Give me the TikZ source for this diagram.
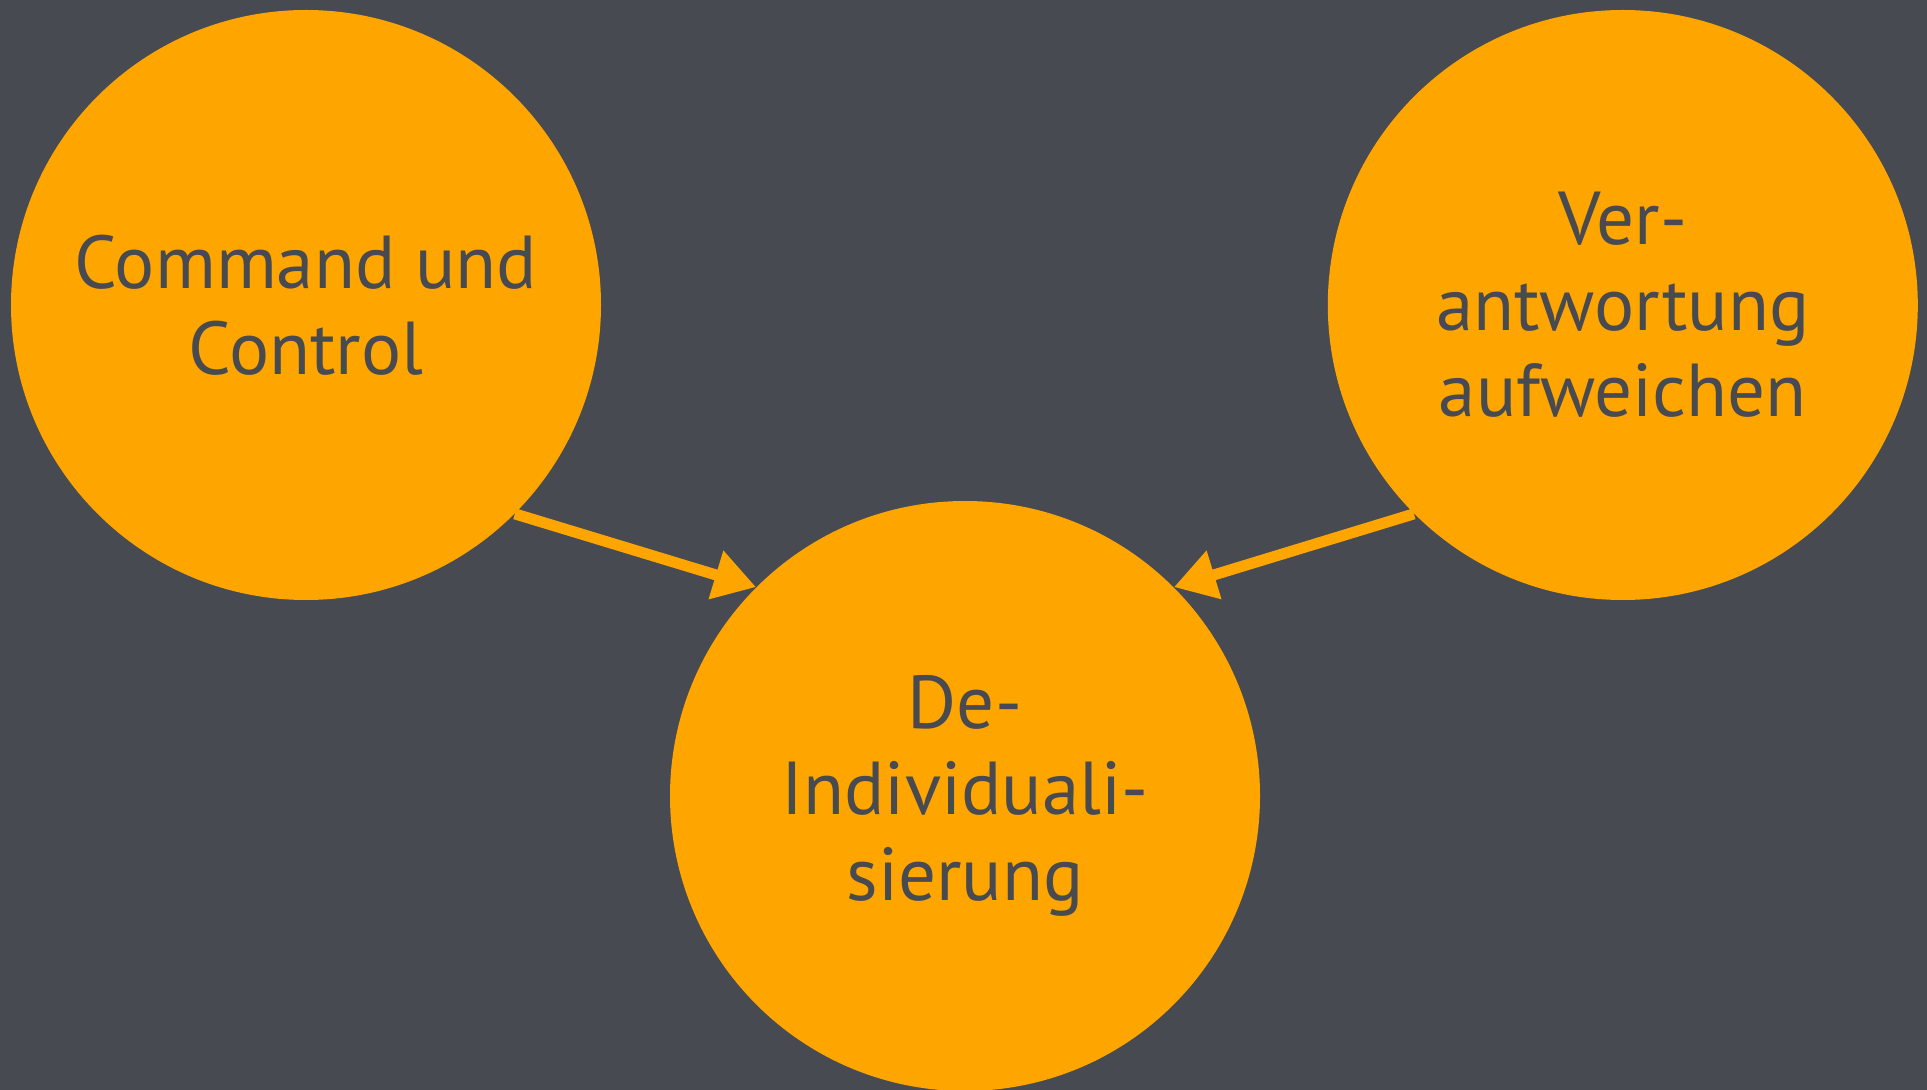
\documentclass[tikz,border=0pt]{standalone}
\usepackage{fontspec}
\setmainfont{PT Sans}
\usetikzlibrary{positioning,arrows.meta}
\definecolor{bg}{RGB}{71,74,81}
\definecolor{orng}{RGB}{255,165,0}
\begin{document}
\begin{tikzpicture}[>={Triangle[length=21pt,width=24pt]},auto,
    base node/.style={circle,fill=orng,text=bg,minimum size=295pt,inner sep=0pt,align=center,font=\fontsize{37.5}{43}\selectfont},
    flow/.style={->,draw=orng,fill=orng,line width=5.5pt}]
\fill[bg] (0,0) rectangle (963.5pt,-545pt);
\useasboundingbox (0,0) rectangle (963.5pt,-545pt);

\node[base node]   (0)   at (153pt,-152.5pt)   {Command und\\Control};
\node[base node]   (1)   [right=363pt of 0]    {Ver-\\antwortung\\aufweichen};
\node[base node]   (2)   at (482.5pt,-398pt)   {De-\\Individuali-\\sierung};
\path
(0.south east) edge[flow] (2.north west)
(1.south west) edge[flow] (2.north east);
\end{tikzpicture}
\end{document}
